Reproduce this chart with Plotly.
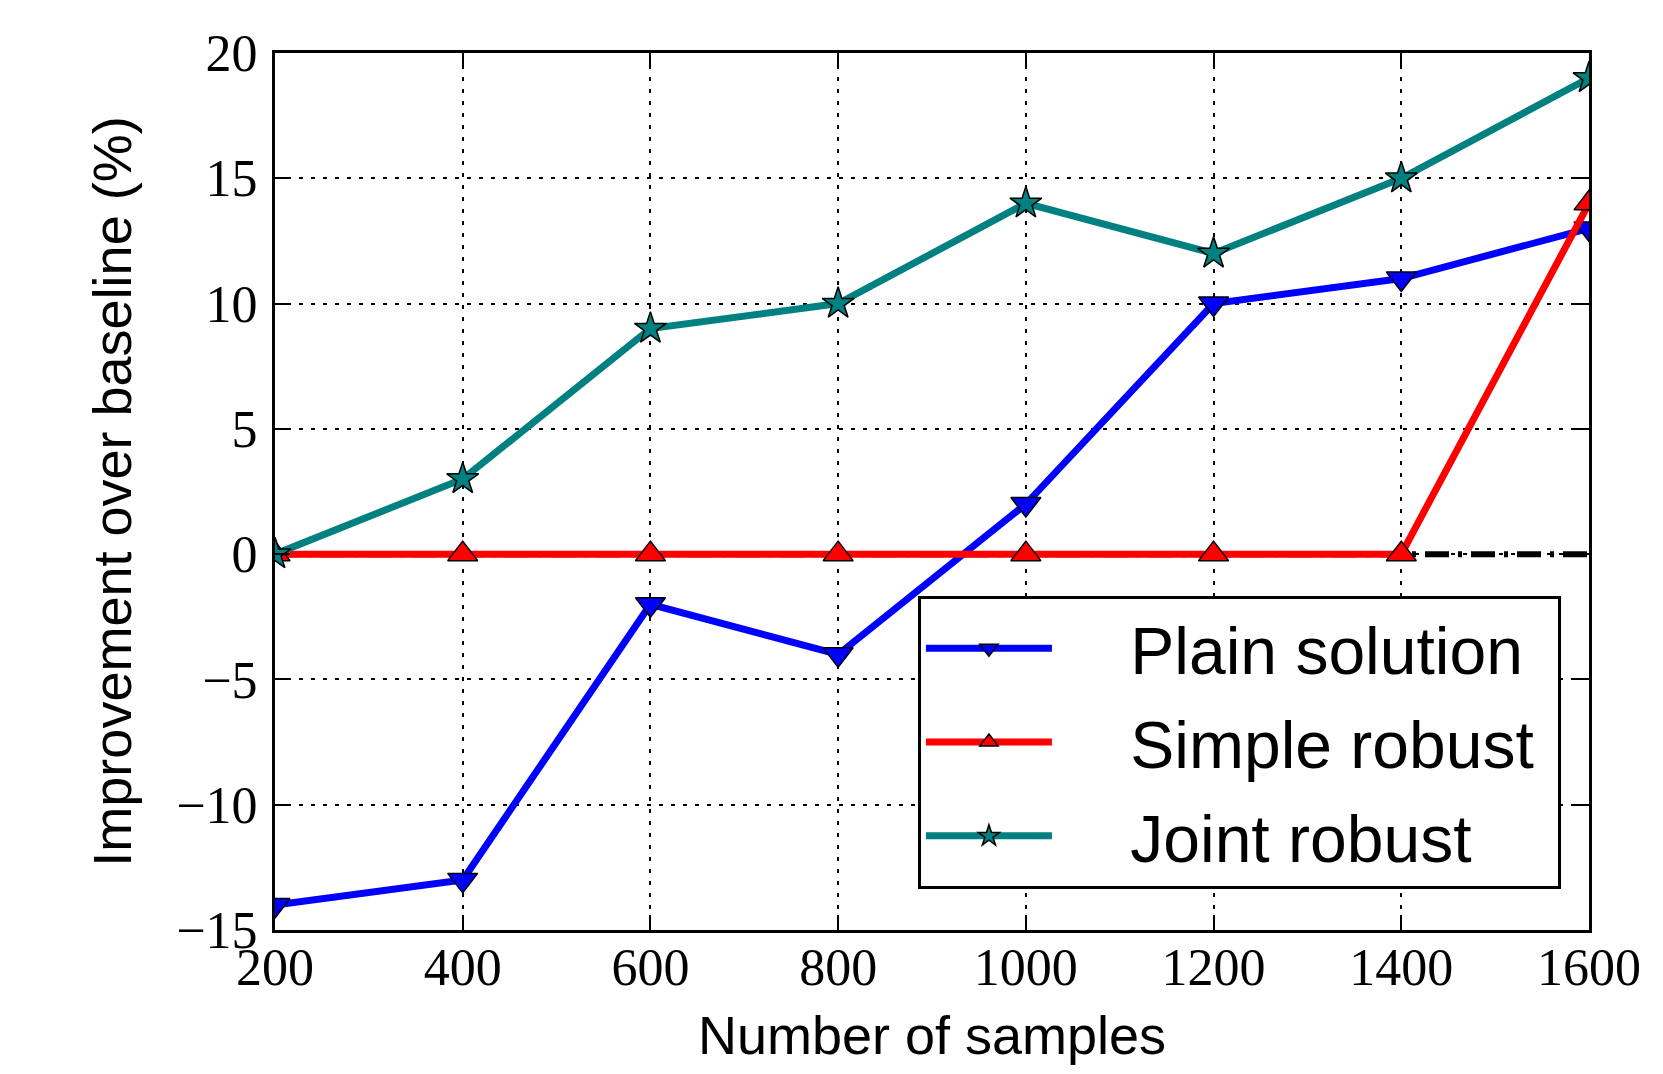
import plotly.graph_objects as go

samples = [200, 400, 600, 800, 1000, 1200, 1400, 1600]
plain_solution = [-14, -13, -2, -4, 2, 10, 11, 13]
simple_robust = [0, 0, 0, 0, 0, 0, 0, 14]
joint_robust = [0, 3, 9, 10, 14, 12, 15, 19]
baseline = [0, 0, 0, 0, 0, 0, 0, 0]

x_ticks = [200, 400, 600, 800, 1000, 1200, 1400, 1600]
y_ticks = [-15, -10, -5, 0, 5, 10, 15, 20]

NB = "\u00a0"

fig = go.Figure()

fig.add_trace(go.Scatter(
    x=samples, y=baseline, mode="lines", showlegend=False,
    line=dict(color="black", width=6, dash="24px,9px,4px,9px"),
    hoverinfo="skip"))

fig.add_trace(go.Scatter(
    x=samples, y=plain_solution, mode="lines+markers",
    name=NB * 4 + "Plain solution",
    legendgroup="a",
    line=dict(color="#0000ff", width=7),
    marker=dict(symbol="triangle-down", size=26, color="#0000ff",
                line=dict(color="black", width=1.5))))

fig.add_trace(go.Scatter(
    x=samples, y=simple_robust, mode="lines+markers",
    name=NB * 4 + "Simple robust" + NB,
    legendgroup="b",
    line=dict(color="#ff0000", width=7),
    marker=dict(symbol="triangle-up", size=26, color="#ff0000",
                line=dict(color="black", width=1.5))))

fig.add_trace(go.Scatter(
    x=samples, y=joint_robust, mode="lines+markers",
    name=NB * 4 + "Joint robust",
    legendgroup="c",
    line=dict(color="#008080", width=7),
    marker=dict(symbol="star", size=24, color="#008080",
                line=dict(color="black", width=1.5))))

axis_common = dict(
    showline=True, linecolor="black", linewidth=3, mirror="ticks",
    ticks="inside", ticklen=15, tickwidth=2, tickcolor="black",
    showgrid=True, gridcolor="black", gridwidth=1.5, griddash="4px,8px",
    zeroline=False,
    tickfont=dict(family="Liberation Serif", size=52, color="black"),
    title_font=dict(family="Liberation Sans", size=54, color="black"),
)

fig.update_xaxes(
    range=[200, 1600], tickvals=x_ticks, ticktext=[str(v) for v in x_ticks],
    title_text="Number of samples", title_standoff=21, ticklabelstandoff=-10,
    **axis_common)
fig.update_yaxes(
    range=[-15, 20], tickvals=y_ticks,
    ticktext=[("\u2212" + str(-v)) if v < 0 else str(v) for v in y_ticks],
    title_text="Improvement over baseline (%)", title_standoff=28,
    ticklabelstandoff=4,
    **axis_common)

fig.update_layout(
    width=1663, height=1074,
    margin=dict(l=267, r=82, t=45, b=152, autoexpand=False),
    plot_bgcolor="white", paper_bgcolor="white",
    legend=dict(
        x=0.4893, y=0.381, xanchor="left", yanchor="top",
        bordercolor="black", borderwidth=3, bgcolor="white",
        font=dict(family="Liberation Sans", size=66, color="black"),
        itemwidth=126, tracegroupgap=5, traceorder="grouped",
    ),
)

fig.write_html("out.html")
